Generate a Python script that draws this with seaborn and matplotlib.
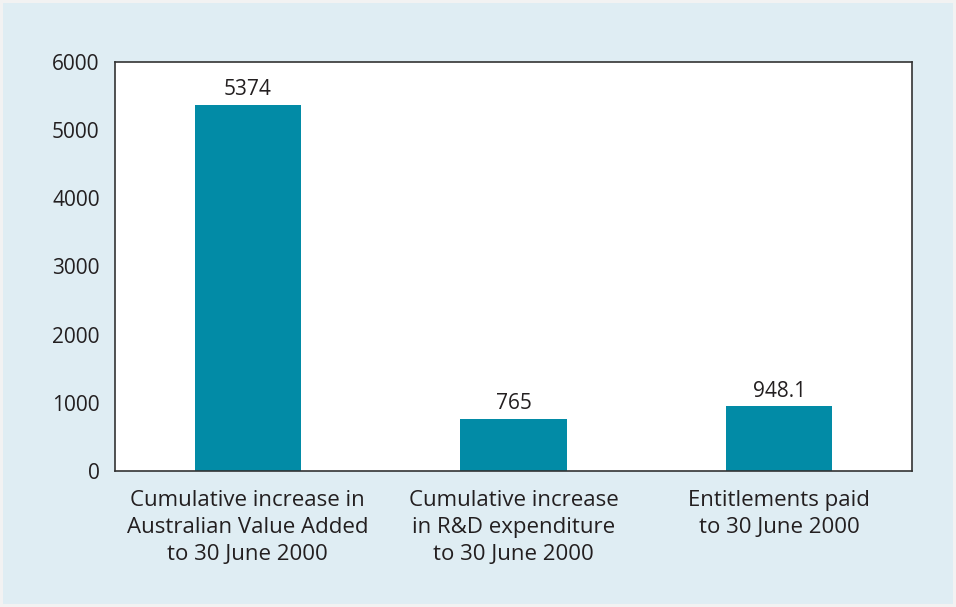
import matplotlib
matplotlib.use("Agg")
import matplotlib.pyplot as plt
import seaborn as sns
import pandas as pd
from matplotlib.patches import Rectangle

categories = ["Cumulative increase in\nAustralian Value Added\nto 30 June 2000",
              "Cumulative increase\nin R&D expenditure\nto 30 June 2000",
              "Entitlements paid\nto 30 June 2000"]
values = [5374, 765, 948.1]
value_labels = ["5374", "765", "948.1"]
y_ticks = [0, 1000, 2000, 3000, 4000, 5000, 6000]

sns.set_theme(style="white")
plt.rcParams['font.family'] = ['Open Sans', 'DejaVu Sans']

text_color = "#231f20"
bar_color = "#028ba6"
bg_color = "#dfedf3"

fig = plt.figure(figsize=(9.56, 6.07), dpi=100)
fig.patch.set_facecolor("#f2f2f2")
fig.patches.append(Rectangle((3/956, 3/607), 950/956, 601/607, transform=fig.transFigure,
                             facecolor=bg_color, edgecolor="none", zorder=-10))

ax = fig.add_axes([115/956, 1 - 471/607, (912 - 115)/956, (471 - 62)/607])
ax.set_zorder(1)
ax.set_facecolor("white")

df = pd.DataFrame({"cat": categories, "val": values})
sns.barplot(data=df, x="cat", y="val", color=bar_color, saturation=1, width=0.4,
            edgecolor="none", ax=ax)

ax.set_xlim(-0.5, 2.5)
ax.set_ylim(0, 6000)
ax.set_yticks(y_ticks)
ax.set_yticklabels([str(t) for t in y_ticks], fontsize=15, color=text_color)

ax.set_xticks([-0.5, 0.5, 1.5, 2.5])
ax.set_xticklabels([])
ax.set_xticks([0, 1, 2], minor=True)
ax.set_xticklabels(categories, minor=True, fontsize=16, color=text_color, linespacing=1.35)
ax.tick_params(axis="x", which="minor", length=0, pad=14)
ax.tick_params(axis="x", which="major", length=6, width=1, color="#555555", direction="out")
ax.tick_params(axis="y", length=6, width=1, color="#555555", direction="out", pad=5)
ax.set_xlabel("")
ax.set_ylabel("")

for s in ax.spines.values():
    s.set_visible(True)
    s.set_color("#333333")
    s.set_linewidth(1.2)

for i, (v, lab) in enumerate(zip(values, value_labels)):
    ax.annotate(lab, (i, v), xytext=(0, 3.5), textcoords="offset points",
                ha="center", va="bottom", fontsize=15, color=text_color)

fig.savefig("out.png", dpi=100, facecolor=fig.get_facecolor())
